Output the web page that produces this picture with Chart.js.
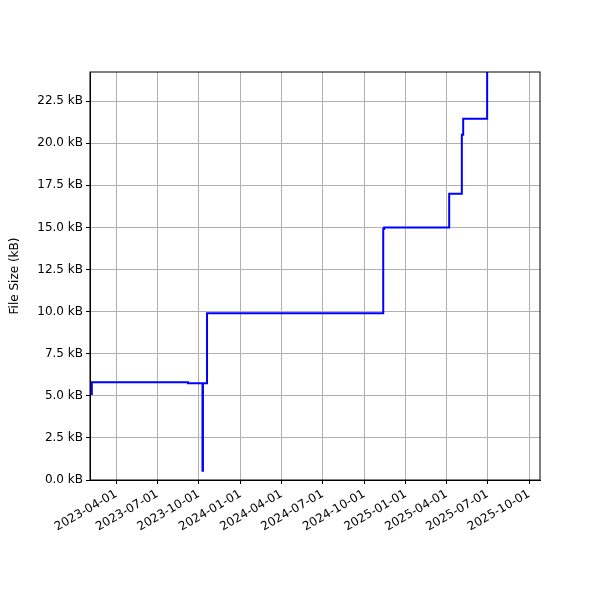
<!DOCTYPE html>
<html><head><script src="https://cdn.jsdelivr.net/npm/chart.js@4"></script>
<style>body{margin:0;background:#fff}</style></head>
<body><canvas id="c" width="600" height="600"></canvas>
<script>
const dates = ["2023-02-04","2023-02-06","2023-09-07","2023-10-09","2023-10-10","2023-10-19","2024-11-12","2024-11-14","2025-04-07","2025-05-05","2025-05-08","2025-06-30"];
const sizes = [5.1,5.8,5.75,0.55,5.75,9.9,14.9,15.0,17.0,20.5,21.45,30];
const tickDates = ["2023-04-01","2023-07-01","2023-10-01","2024-01-01","2024-04-01","2024-07-01","2024-10-01","2025-01-01","2025-04-01","2025-07-01","2025-10-01"];
const yTicks = [0,2.5,5,7.5,10,12.5,15,17.5,20,22.5];
const day = s => Date.parse(s+"T00:00:00Z")/86400000;
const fmt = v => new Date(Math.round(v)*86400000).toISOString().slice(0,10);
const F = {family:"DejaVu Sans", size:12};
new Chart(document.getElementById('c'), {
  type:'line',
  data:{datasets:[{data:dates.map((d,i)=>({x:day(d),y:sizes[i]})), borderColor:'#0000ff', borderWidth:2, pointRadius:0, stepped:'before', fill:false}]},
  options:{
    responsive:false, animation:false,
    layout:{padding:{left:6,right:60,top:72,bottom:0}},
    plugins:{legend:{display:false},tooltip:{enabled:false}},
    scales:{
      x:{type:'linear', min:day("2023-02-02"), max:day("2025-10-25"),
        afterBuildTicks:a=>{a.ticks=tickDates.map(d=>({value:day(d)}));},
        afterFit:a=>{a.height=120;},
        ticks:{callback:v=>fmt(v), maxRotation:30, minRotation:30, color:'#000', font:F},
        grid:{color:'#b0b0b0', tickColor:'#000', tickLength:4}, border:{color:'#000'}},
      y:{min:0, max:24.23,
        afterBuildTicks:a=>{a.ticks=yTicks.map(v=>({value:v}));},
        afterFit:a=>{a.width=84;},
        title:{display:true,text:'File Size (kB)',color:'#000',font:F,padding:2},
        ticks:{callback:v=>v.toFixed(1)+' kB', color:'#000', font:F},
        grid:{color:'#b0b0b0', tickColor:'#000', tickLength:4}, border:{color:'#000'}}
    }
  },
  plugins:[{id:'frame',afterDraw(c){const a=c.chartArea,x=c.ctx;x.save();x.strokeStyle='#000';x.lineWidth=1;x.strokeRect(a.left,a.top,a.right-a.left,a.bottom-a.top);x.restore();}}]
});
</script></body></html>
